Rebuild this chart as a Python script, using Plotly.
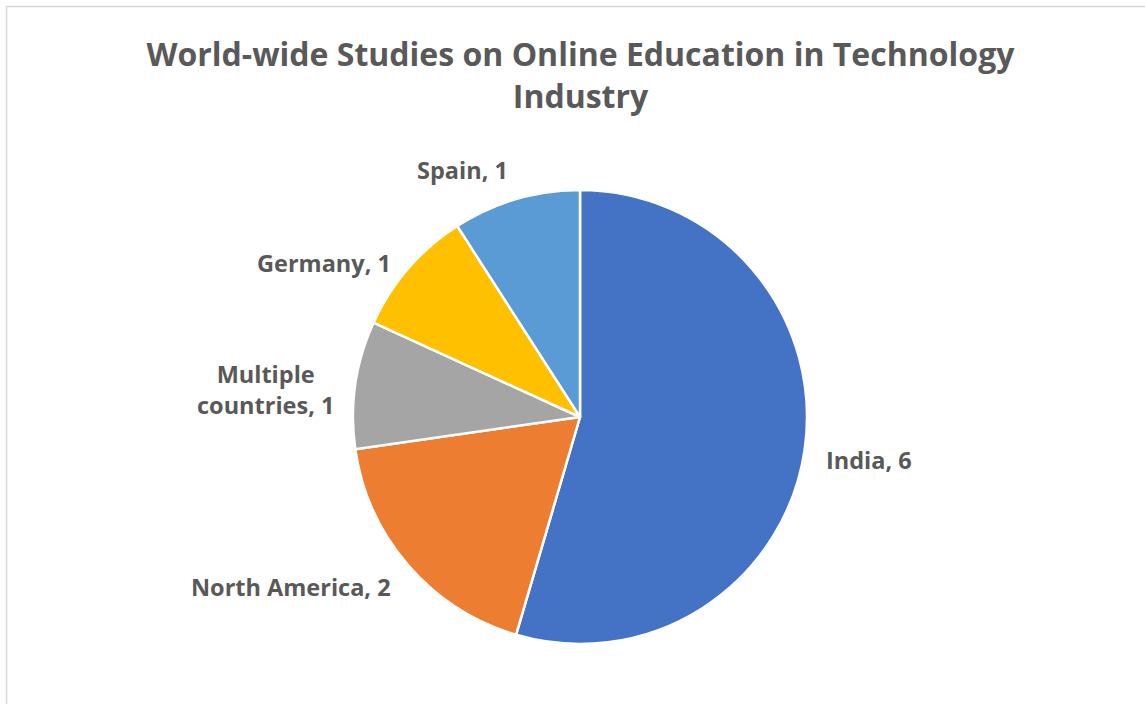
import math
import plotly.graph_objects as go

# Studies per region
regions = ["India", "North America", "Multiple<br>countries", "Germany", "Spain"]
studies = [6, 2, 1, 1, 1]
slice_colors = ["#4472C4", "#ED7D31", "#A5A5A5", "#FFC000", "#5B9BD5"]

W, H = 1145, 704
cx, cy, r = 580, 417, 227
label_gap = 20
label_drop = 8
label_font = dict(family="Open Sans", size=23.5, color="#595959", weight="bold")

fig = go.Figure(
    go.Pie(
        labels=regions,
        values=studies,
        sort=False,
        direction="clockwise",
        rotation=0,
        marker=dict(colors=slice_colors, line=dict(color="white", width=2.5)),
        textinfo="none",
        hoverinfo="label+value",
        showlegend=False,
        domain=dict(
            x=[(cx - r) / W, (cx + r) / W],
            y=[1 - (cy + r) / H, 1 - (cy - r) / H],
        ),
    )
)

# Data labels placed just outside each slice, at the slice's mid angle
total = sum(studies)
annotations = []
cum = 0
for name, v in zip(regions, studies):
    mid = (cum + v / 2) / total * 2 * math.pi
    cum += v
    dx, dy = math.sin(mid), math.cos(mid)
    R = r + label_gap
    px = (cx + R * dx) / W
    py = 1 - (cy - R * dy + label_drop) / H
    xa = "center" if abs(dx) < 0.2 else ("left" if dx > 0 else "right")
    ya = "bottom" if dy > 0.8 else ("top" if dy < -0.8 else "middle")
    annotations.append(
        dict(
            x=px, y=py, xref="paper", yref="paper",
            text=f"{name}, {v}", showarrow=False,
            xanchor=xa, yanchor=ya, align="center",
            font=label_font,
        )
    )

fig.update_layout(
    width=W,
    height=H,
    margin=dict(l=0, r=0, t=0, b=0),
    paper_bgcolor="white",
    title=dict(
        text="World-wide Studies on Online Education in Technology<br>Industry",
        x=0.507,
        xanchor="center",
        y=1 - 66 / H,
        yanchor="middle",
        font=dict(family="Open Sans", size=32, color="#595959", weight="bold"),
    ),
    annotations=annotations,
    shapes=[
        dict(
            type="rect", xref="paper", yref="paper",
            x0=6.5 / W, x1=1.05, y0=-0.05, y1=1 - 6.5 / H,
            line=dict(color="#D9D9D9", width=1.5),
        )
    ],
)

fig.write_html("out.html")
